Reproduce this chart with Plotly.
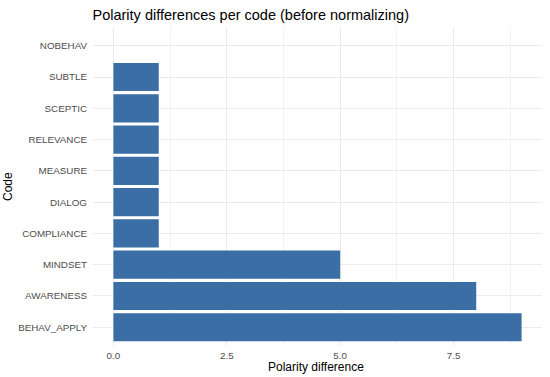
import plotly.graph_objects as go

codes = ["BEHAV_APPLY", "AWARENESS", "MINDSET", "COMPLIANCE", "DIALOG",
         "MEASURE", "RELEVANCE", "SCEPTIC", "SUBTLE", "NOBEHAV"]
diffs = [9, 8, 5, 1, 1, 1, 1, 1, 1, 0]
x_tickvals = [0, 2.5, 5, 7.5]
x_ticktext = ["0.0", "2.5", "5.0", "7.5"]

FONT = "Liberation Sans, Arial, sans-serif"
W, H = 550, 377
ML, MR, MT, MB = 93, 8, 27, 31

fig = go.Figure(go.Bar(
    x=diffs, y=codes, orientation="h", width=0.9,
    marker=dict(color="#3A6EA5", line=dict(width=0)),
))

fig.update_layout(
    width=W, height=H,
    margin=dict(l=ML, r=MR, t=MT, b=MB, autoexpand=False),
    paper_bgcolor="white", plot_bgcolor="white",
    font=dict(family=FONT, color="black"),
    showlegend=False,
    bargap=0.1,
    title=dict(text="Polarity differences per code (before normalizing)",
               x=92.5/W, xanchor="left", xref="container",
               y=1-15/H, yanchor="middle", yref="container",
               pad=dict(l=0, r=0, t=0, b=0),
               font=dict(size=14.5, color="black", family=FONT)),
    xaxis=dict(range=[-0.45, 9.45], tickvals=x_tickvals, ticktext=x_ticktext,
               showgrid=True, gridcolor="#EBEBEB", gridwidth=1.1,
               zeroline=False, showline=False, ticks="", automargin=False,
               tickfont=dict(size=9.8, color="#4D4D4D"),
               ticklabelstandoff=2,
               minor=dict(tick0=0, dtick=1.25, showgrid=True, gridcolor="#F2F2F2", gridwidth=0.6)),
    yaxis=dict(categoryorder="array", categoryarray=codes, range=[-0.6, 9.6],
               showgrid=True, gridcolor="#EBEBEB", gridwidth=1.1,
               zeroline=False, showline=False, ticks="", automargin=False,
               tickfont=dict(size=9.8, color="#4D4D4D"),
               ticklabelstandoff=5),
    annotations=[
        dict(text="Polarity difference",
             x=(316-ML)/(W-ML-MR), y=(H-MB-367)/(H-MT-MB),
             xref="paper", yref="paper", showarrow=False,
             xanchor="center", yanchor="middle",
             font=dict(size=12, color="black", family=FONT)),
        dict(text="Code",
             x=(8-ML)/(W-ML-MR), y=(H-MB-187)/(H-MT-MB),
             xref="paper", yref="paper",
             showarrow=False, textangle=-90, xanchor="center", yanchor="middle",
             font=dict(size=12, color="black", family=FONT)),
    ],
)

fig.write_html("out.html", config={"displayModeBar": False},
               post_script="document.body.style.margin='0';")
